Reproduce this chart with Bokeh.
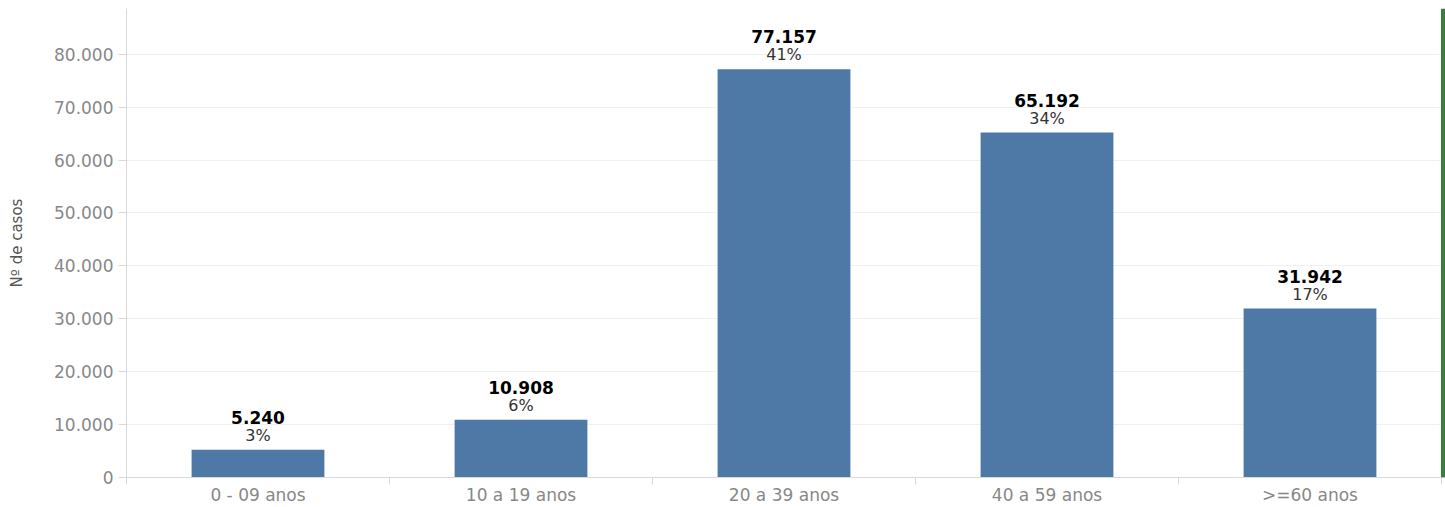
import numpy as np
from bokeh.plotting import figure
from bokeh.models import (ColumnDataSource, LabelSet, LinearAxis, FixedTicker, Grid,
                          CustomJSTickFormatter, Range1d, BoxAnnotation)
from bokeh.core.properties import value
from bokeh.embed import file_html
from bokeh.resources import INLINE

categories = ["0 - 09 anos", "10 a 19 anos", "20 a 39 anos", "40 a 59 anos", ">=60 anos"]
casos = [5240, 10908, 77157, 65192, 31942]
percentuais = [3, 6, 41, 34, 17]
y_ticks = [0, 10000, 20000, 30000, 40000, 50000, 60000, 70000, 80000]

pos = list(np.arange(len(categories)) + 0.5)
src = ColumnDataSource(dict(
    x=pos, top=casos, cat=categories,
    val=[f"{v:,}".replace(",", ".") for v in casos],
    pct=[f"{p}%" for p in percentuais],
))

FONT = "DejaVu Sans"
AXIS_C = "#d9d9d9"
X_END = 5.0152

p = figure(width=1445, height=507, output_backend="svg", toolbar_location=None,
           x_range=Range1d(0, X_END), y_range=Range1d(0, 88650),
           x_axis_type=None, y_axis_type=None,
           min_border_left=126, min_border_top=8, min_border_right=0, min_border_bottom=0)
p.outline_line_color = None
p.background_fill_color = "white"
p.border_fill_color = "white"

yaxis = LinearAxis(
    ticker=FixedTicker(ticks=y_ticks, minor_ticks=[]),
    formatter=CustomJSTickFormatter(code="return tick.toFixed(0).replace(/\\B(?=(\\d{3})+(?!\\d))/g, '.');"),
    axis_label="Nº de casos",
)
yaxis.axis_line_color = AXIS_C
yaxis.major_tick_line_color = AXIS_C
yaxis.major_tick_out = 8
yaxis.major_tick_in = 0
yaxis.minor_tick_out = 0
yaxis.minor_tick_in = 0
yaxis.major_label_standoff = 5
yaxis.major_label_text_font = FONT
yaxis.major_label_text_font_size = "17px"
yaxis.major_label_text_color = "#888888"
yaxis.axis_label_text_font = FONT
yaxis.axis_label_text_font_size = "15px"
yaxis.axis_label_text_font_style = "normal"
yaxis.axis_label_text_color = "#555555"
yaxis.axis_label_standoff = 25
p.add_layout(yaxis, "left")

xaxis = LinearAxis(
    ticker=FixedTicker(ticks=pos, minor_ticks=list(range(len(categories) + 1))),
    formatter=CustomJSTickFormatter(args=dict(labels=categories),
                                    code="return labels[Math.floor(tick)];"),
)
xaxis.axis_line_color = AXIS_C
xaxis.major_tick_out = 0
xaxis.major_tick_in = 0
xaxis.minor_tick_out = 7
xaxis.minor_tick_in = 0
xaxis.minor_tick_line_color = AXIS_C
xaxis.major_label_standoff = 0
xaxis.major_label_text_font = FONT
xaxis.major_label_text_font_size = "17px"
xaxis.major_label_text_color = "#888888"
p.add_layout(xaxis, "below")

p.add_layout(Grid(dimension=1, ticker=yaxis.ticker, grid_line_color="#f0f0f0"))

p.vbar(x="x", top="top", bottom=0, width=0.505, source=src,
       fill_color="#4e79a7", line_color=None)

p.add_layout(LabelSet(x="x", y="top", text="pct", source=src, y_offset=9,
                      text_align="center", text_baseline="alphabetic",
                      text_font=value(FONT), text_font_size="16px", text_color="#333333"))
p.add_layout(LabelSet(x="x", y="top", text="val", source=src, y_offset=26,
                      text_align="center", text_baseline="alphabetic",
                      text_font=value(FONT), text_font_size="17px",
                      text_font_style="bold", text_color="#000000"))

p.add_layout(BoxAnnotation(left=4.998, right=X_END, fill_color="#3b7f3f",
                           fill_alpha=1.0, line_color=None))

open("out.html", "w").write(file_html(p, INLINE))
